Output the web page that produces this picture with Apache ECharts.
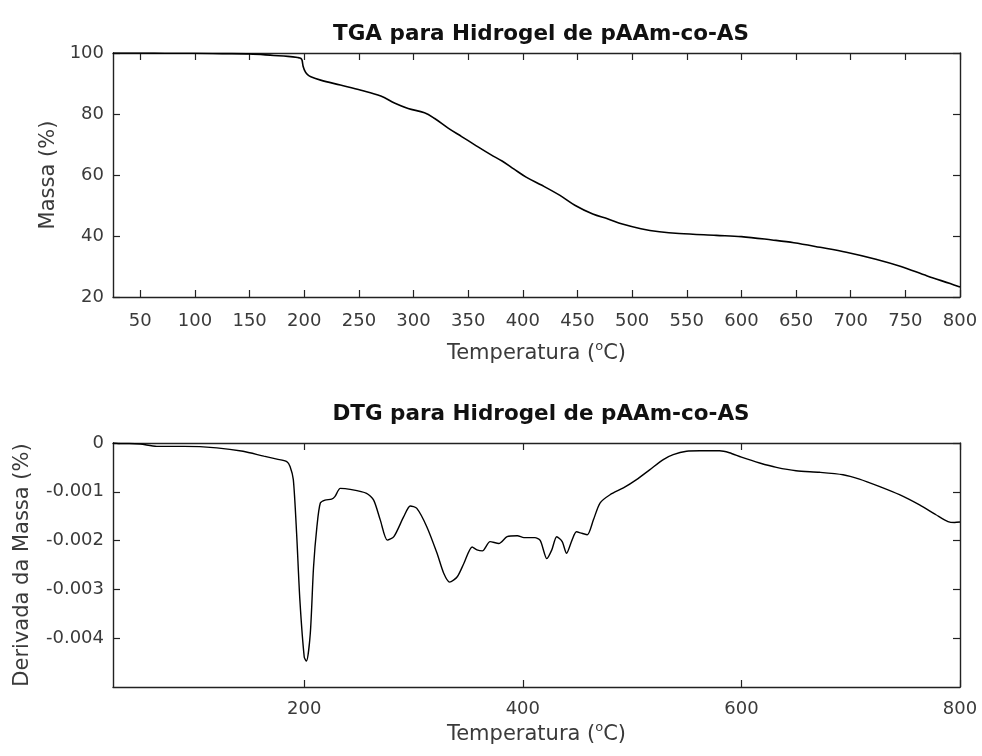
<!DOCTYPE html>
<html>
<head>
<meta charset="utf-8">
<script src="https://cdn.jsdelivr.net/npm/echarts@6/dist/echarts.min.js"></script>
<style>html,body{margin:0;padding:0;background:#fff}#c{width:982px;height:756px}</style>
</head>
<body>
<div id="c"></div>
<script>
// TGA curve (temperature in °C, mass in %)
var tgaTemp = [25, 50, 75, 100, 125, 150, 172, 185, 194, 197, 198, 199, 201, 203, 206, 215, 233, 252, 270, 283, 295, 310, 319, 332, 344, 356, 371, 381, 392, 403, 417, 434, 448, 464, 478, 491, 508, 525, 543, 577, 600, 628, 648, 672, 696, 723, 746, 770, 791, 800];
var tgaMass = [100, 100, 99.9, 99.9, 99.8, 99.7, 99.2, 98.9, 98.5, 98.2, 97.6, 95.6, 93.8, 92.9, 92.2, 91.1, 89.5, 87.8, 85.9, 83.5, 81.8, 80.4, 78.6, 75.3, 72.6, 69.9, 66.6, 64.6, 61.9, 59.3, 56.7, 53.3, 50, 47.2, 45.6, 43.9, 42.4, 41.4, 40.8, 40.2, 39.8, 38.7, 37.8, 36.3, 34.7, 32.4, 30, 26.9, 24.4, 23.3];

// DTG curve (temperature in °C, mass derivative in %)
var dtgTemp = [25, 30, 40, 50, 65, 90, 120, 144, 163, 175, 184, 187, 190, 193, 196, 200, 202, 205.5, 208.5, 211.6, 214.7, 219, 225, 228, 233, 242, 257, 263.5, 269.6, 276, 282, 291, 297, 303, 312, 321.5, 327.6, 333, 340, 346, 353.6, 358, 363, 370, 378, 385.6, 395, 401, 411, 416, 422, 426.5, 431, 436, 440, 445, 449, 454, 459, 464.5, 470.6, 479.8, 492, 504, 516, 528.5, 537.6, 549.8, 562, 580, 589, 600, 616.7, 632, 650, 671.5, 693, 708, 726, 744.6, 763, 778, 789, 795, 800];
var dtgDeriv = [0, -0.00001, -0.00001, -0.00002, -0.00007, -0.00007, -0.0001, -0.00017, -0.00027, -0.00033, -0.00038, -0.00048, -0.00075, -0.00185, -0.00322, -0.00439, -0.00447, -0.00391, -0.00254, -0.00171, -0.00123, -0.00117, -0.00115, -0.0011, -0.00093, -0.00095, -0.00103, -0.00117, -0.00158, -0.00199, -0.00192, -0.00151, -0.00129, -0.00134, -0.00171, -0.00226, -0.00267, -0.00285, -0.00274, -0.00247, -0.00213, -0.00219, -0.00221, -0.00202, -0.00206, -0.00192, -0.0019, -0.00194, -0.00194, -0.002, -0.00237, -0.00219, -0.00192, -0.00202, -0.00226, -0.00199, -0.00182, -0.00185, -0.00188, -0.00158, -0.00123, -0.00106, -0.00092, -0.00075, -0.00055, -0.00034, -0.00024, -0.00017, -0.00016, -0.00016, -0.0002, -0.00029, -0.00041, -0.0005, -0.00057, -0.0006, -0.00065, -0.00074, -0.00089, -0.00106, -0.00127, -0.00147, -0.00161, -0.00163, -0.00162];

// tick labels
var tgaXTicks = [50, 100, 150, 200, 250, 300, 350, 400, 450, 500, 550, 600, 650, 700, 750, 800];
var tgaYTicks = [20, 40, 60, 80, 100];
var dtgXTicks = [200, 400, 600, 800];
var dtgYTicks = [-0.004, -0.003, -0.002, -0.001, 0];

var titleTGA = 'TGA para Hidrogel de pAAm-co-AS';
var titleDTG = 'DTG para Hidrogel de pAAm-co-AS';
var xName = 'Temperatura ({s|o}C)';
var yNameTGA = 'Massa (%)';
var yNameDTG = 'Derivada da Massa (%)';

var FONT = 'DejaVu Sans';
var AX = '#222222';
var LBL = '#3a3a3a';

function pairs(xs, ys) { var o = []; for (var i = 0; i < xs.length; i++) o.push([xs[i], ys[i]]); return o; }

var nameStyle = {
  fontFamily: FONT, fontSize: 21, color: LBL,
  rich: { s: { fontFamily: FONT, fontSize: 13, color: LBL, padding: [0, 0, 15, 0] } }
};
var TICK_FS = 18;

function xAxisMain(grid, ticks, gap, lblMargin) {
  return {
    type: 'value', gridIndex: grid, min: 25, max: 800, position: 'bottom',
    name: xName, nameLocation: 'middle', nameGap: gap, nameTextStyle: nameStyle,
    axisLine: { show: true, onZero: false, lineStyle: { color: AX, width: 1.4 } },
    axisTick: { show: true, inside: true, length: 7, customValues: ticks, lineStyle: { color: AX, width: 1.2 } },
    axisLabel: { show: true, customValues: ticks, margin: lblMargin, fontFamily: FONT, fontSize: TICK_FS, color: LBL },
    splitLine: { show: false }
  };
}
function xAxisTop(grid, ticks) {
  return {
    type: 'value', gridIndex: grid, min: 25, max: 800, position: 'top',
    axisLine: { show: true, onZero: false, lineStyle: { color: AX, width: 1.4 } },
    axisTick: { show: true, inside: true, length: 7, customValues: ticks, lineStyle: { color: AX, width: 1.2 } },
    axisLabel: { show: false }, splitLine: { show: false }
  };
}
function yAxisMain(grid, min, max, ticks, name, gap, fmt) {
  return {
    type: 'value', gridIndex: grid, min: min, max: max, position: 'left',
    name: name, nameLocation: 'middle', nameGap: gap, nameRotate: 90, nameTextStyle: nameStyle,
    axisLine: { show: true, onZero: false, lineStyle: { color: AX, width: 1.4 } },
    axisTick: { show: true, inside: true, length: 7, customValues: ticks, lineStyle: { color: AX, width: 1.2 } },
    axisLabel: { show: true, customValues: ticks, margin: 9, fontFamily: FONT, fontSize: TICK_FS, color: LBL, formatter: fmt },
    splitLine: { show: false }
  };
}
function yAxisRight(grid, min, max, ticks) {
  return {
    type: 'value', gridIndex: grid, min: min, max: max, position: 'right',
    axisLine: { show: true, onZero: false, lineStyle: { color: AX, width: 1.4 } },
    axisTick: { show: true, inside: true, length: 7, customValues: ticks, lineStyle: { color: AX, width: 1.2 } },
    axisLabel: { show: false }, splitLine: { show: false }
  };
}

var chart = echarts.init(document.getElementById('c'), null, { renderer: 'canvas' });
chart.setOption({
  backgroundColor: '#ffffff',
  animation: false,
  title: [
    { text: titleTGA, left: 536, top: 18, textAlign: 'center',
      textStyle: { fontFamily: FONT, fontWeight: 'bold', fontSize: 21.5, color: '#111' } },
    { text: titleDTG, left: 536, top: 398, textAlign: 'center',
      textStyle: { fontFamily: FONT, fontWeight: 'bold', fontSize: 21.5, color: '#111' } }
  ],
  grid: [
    { left: 113, right: 22, top: 53, height: 244 },
    { left: 113, right: 22, top: 443, height: 244 }
  ],
  xAxis: [
    xAxisMain(0, tgaXTicks, 43, 15),
    xAxisTop(0, tgaXTicks),
    xAxisMain(1, dtgXTicks, 34, 13),
    xAxisTop(1, dtgXTicks)
  ],
  yAxis: [
    yAxisMain(0, 20, 100, tgaYTicks, yNameTGA, 48, function (v) { return String(v); }),
    yAxisRight(0, 20, 100, tgaYTicks),
    yAxisMain(1, -0.005, 0, dtgYTicks, yNameDTG, 80, function (v) { return v === 0 ? '0' : v.toFixed(3); }),
    yAxisRight(1, -0.005, 0, dtgYTicks)
  ],
  series: [
    { type: 'line', xAxisIndex: 0, yAxisIndex: 0, data: pairs(tgaTemp, tgaMass), showSymbol: false,
      smooth: 0.35, lineStyle: { color: '#000', width: 1.6 }, clip: true },
    { type: 'line', xAxisIndex: 2, yAxisIndex: 2, data: pairs(dtgTemp, dtgDeriv), showSymbol: false,
      smooth: 0.25, lineStyle: { color: '#000', width: 1.4 }, clip: true }
  ]
});
</script>
</body>
</html>
